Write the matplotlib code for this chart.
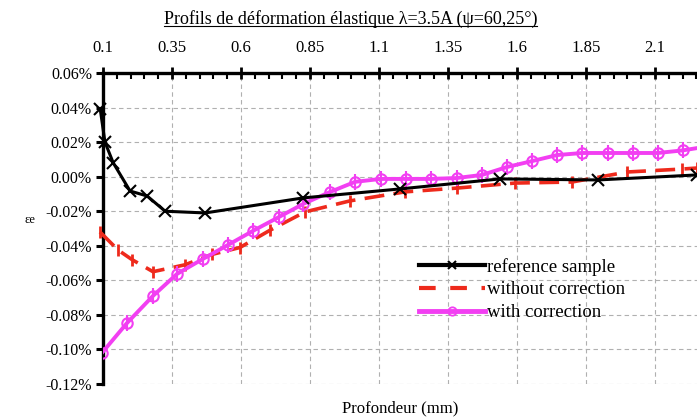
import matplotlib
matplotlib.use('Agg')
from matplotlib import pyplot as plt
from matplotlib.lines import Line2D
from matplotlib.ticker import MultipleLocator, FuncFormatter

# profondeur (mm) / deformation (%)
ref_x = [0.09, 0.107, 0.137, 0.198, 0.26, 0.325, 0.47, 0.825, 1.176, 1.538, 1.893, 2.252]
ref_y = [0.039, 0.020, 0.008, -0.0083, -0.0112, -0.020, -0.021, -0.0123, -0.0071, -0.0013, -0.0019, 0.001]

sans_x = [0.089, 0.154, 0.205, 0.281, 0.397, 0.495, 0.596, 0.705, 0.832, 0.995, 1.194, 1.383, 1.593, 1.799, 1.999, 2.198, 2.252]
sans_y = [-0.032, -0.0424, -0.048, -0.055, -0.051, -0.045, -0.041, -0.031, -0.0204, -0.014, -0.0088, -0.0066, -0.0037, -0.0031, 0.0027, 0.0044, 0.005]

avec_x = [0.096, 0.187, 0.281, 0.368, 0.462, 0.553, 0.643, 0.738, 0.825, 0.922, 1.013, 1.106, 1.198,
          1.288, 1.381, 1.473, 1.564, 1.654, 1.745, 1.836, 1.93, 2.02, 2.11, 2.20, 2.29]
avec_y = [-0.102, -0.0847, -0.069, -0.0563, -0.0476, -0.0395, -0.0314, -0.0233, -0.0158, -0.0089, -0.003,
          -0.0013, -0.0013, -0.0013, -0.0008, 0.001, 0.0056, 0.009, 0.0125, 0.0137, 0.0137, 0.0137, 0.0137, 0.0152, 0.0175]

plt.rcParams['font.family'] = ['Liberation Serif', 'DejaVu Serif']

fig = plt.figure(figsize=(6.97, 4.18), dpi=100)
ax = fig.add_axes([0.1478, 0.0813, 0.8522, 0.7441])

ax.plot(sans_x, sans_y, color='#ee2a1c', lw=2.6, dashes=(5.5, 2.6), marker='|', ms=9, mew=2, clip_on=False, zorder=3)
ax.plot(avec_x, avec_y, color='#f23ff2', lw=2.8, marker='o', ms=7.5, mfc='none', mew=1.5, zorder=4)
ax.plot(avec_x, avec_y, color='#f23ff2', lw=0, marker='|', ms=12, mew=1.5, zorder=4)
ax.plot(ref_x, ref_y, color='black', lw=2.2, marker='x', ms=8, mew=1.5, clip_on=False, zorder=5)

ax.set_xlim(0.1, 2.252)
ax.set_ylim(-0.12, 0.06)

ax.xaxis.tick_top()
ax.set_xticks([0.1, 0.35, 0.6, 0.85, 1.1, 1.35, 1.6, 1.85, 2.1])
ax.set_xticklabels(['0.1', '0.35', '0.6', '0.85', '1.1', '1.35', '1.6', '1.85', '2.1'])
ax.xaxis.set_minor_locator(MultipleLocator(0.05))
ax.yaxis.set_major_locator(MultipleLocator(0.02))
ax.yaxis.set_major_formatter(FuncFormatter(lambda v, p: '%.2f%%' % v))

ax.tick_params(axis='x', which='major', direction='inout', length=9, width=2, labelsize=12, pad=8)
ax.tick_params(axis='x', which='minor', direction='in', length=4, width=1.5)
ax.tick_params(axis='y', direction='out', length=5, width=2.2, labelsize=11.5, pad=3)

for s in ['right', 'bottom']:
    ax.spines[s].set_visible(False)
for s in ['top', 'left']:
    ax.spines[s].set_linewidth(2.4)

ax.grid(True, color='#b0b0b0', linestyle=(0, (4, 3)), lw=0.8)
ax.set_axisbelow(True)

ax.set_xlabel('Profondeur (mm)', fontsize=12, labelpad=12)
fig.text(0.043, 0.473, 'εe', fontsize=9, ha='center', va='center')

titre = fig.text(0.503, 0.955, 'Profils de déformation élastique λ=3.5A (ψ=60,25°)', fontsize=13, ha='center', va='center')

handles = [Line2D([], [], color='black', lw=3, marker='x', ms=6, mew=1.5),
           Line2D([], [], color='#ee2a1c', lw=3, dashes=(4, 3.5)),
           Line2D([], [], color='#f23ff2', lw=3.5, marker='o', ms=6, mfc='none', mew=1.3)]
ax.legend(handles, ['reference sample', 'without correction', 'with correction'],
          loc='upper left', bbox_to_anchor=(0.52, 0.43), frameon=False, fontsize=13.5,
          handlelength=3.5, handletextpad=0.1, labelspacing=0.3, borderaxespad=0)

fig.canvas.draw()
bb = titre.get_window_extent().transformed(fig.transFigure.inverted())
fig.add_artist(Line2D([bb.x0, bb.x1], [bb.y0 + 0.004, bb.y0 + 0.004], color='black', lw=0.8, transform=fig.transFigure))

fig.savefig('out.png', dpi=100)
